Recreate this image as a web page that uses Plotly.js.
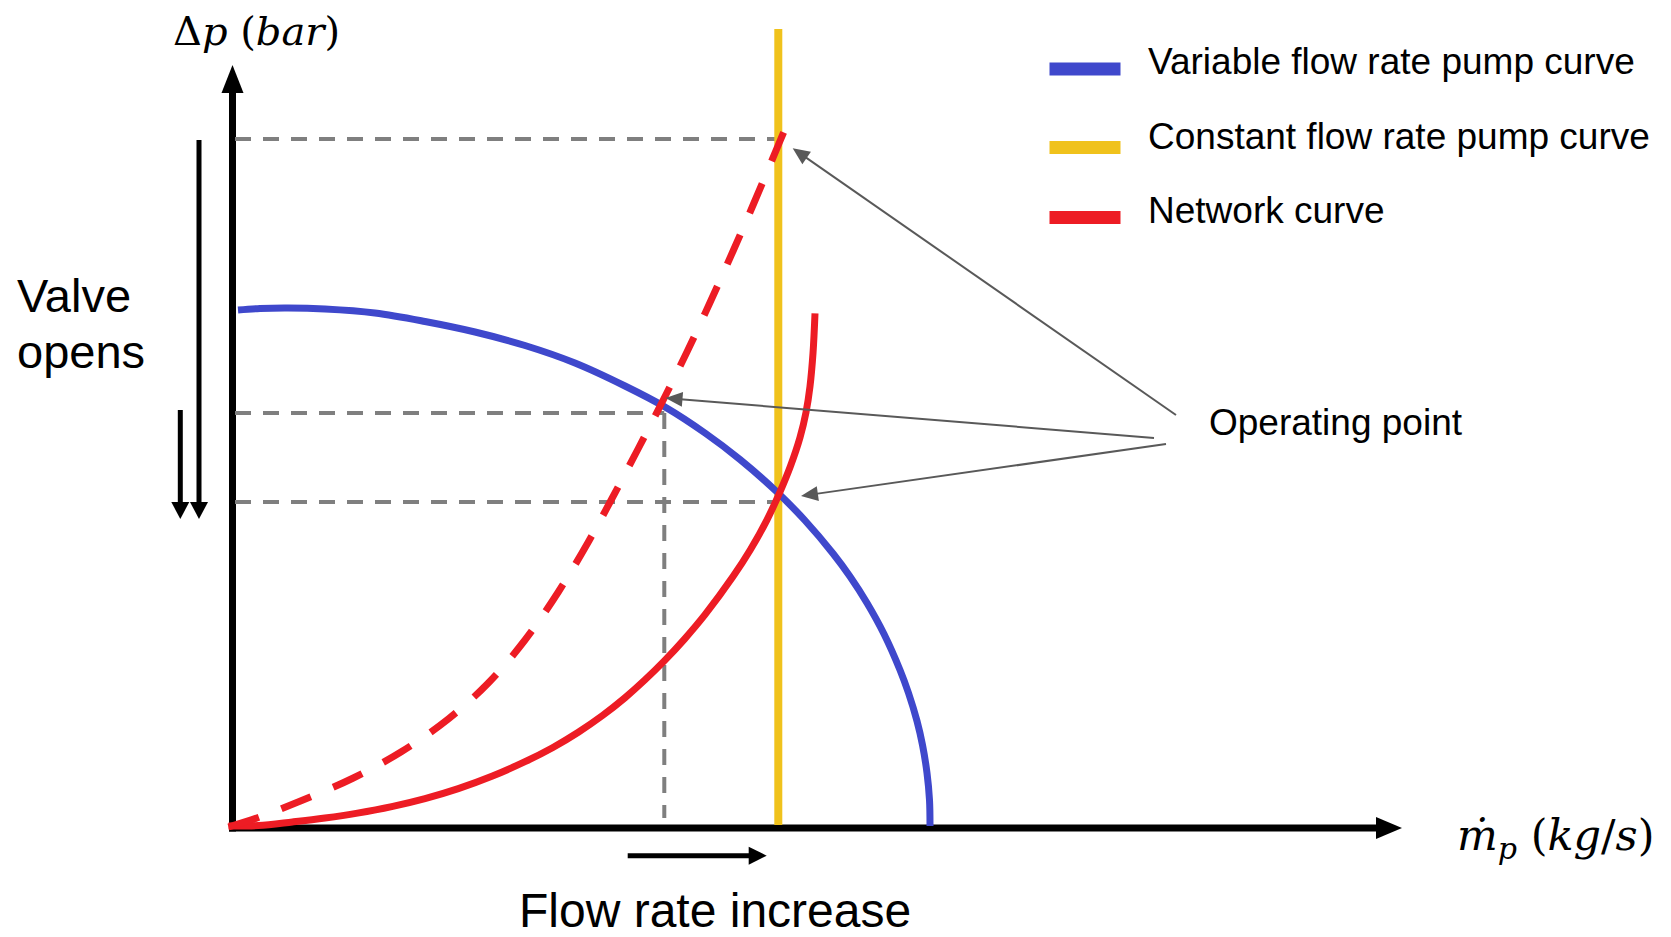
<!DOCTYPE html>
<html><head><meta charset="utf-8">
<script src="https://cdn.plot.ly/plotly-3.0.1.min.js"></script>
<style>html,body{margin:0;padding:0;background:#fff;}#chart{width:1671px;height:937px;}</style>
</head><body><div id="chart"></div>
<script>
// ---- data (arbitrary units: flow rate on x, pressure difference on y) ----
const pumpVarX = [0.055, 0.275, 0.555, 0.925, 1.425, 1.925, 2.425, 2.925, 3.425, 3.925, 4.325, 4.725, 5.075, 5.445, 5.725, 6.005, 6.175, 6.345, 6.515, 6.675, 6.760, 6.845, 6.900, 6.945, 6.970, 6.975];
const pumpVarY = [5.18, 5.195, 5.20, 5.19, 5.15, 5.065, 4.96, 4.825, 4.65, 4.42, 4.21, 3.95, 3.685, 3.36, 3.075, 2.745, 2.515, 2.25, 1.94, 1.58, 1.35, 1.07, 0.83, 0.55, 0.28, 0.02];

const pumpConstX = [5.458, 5.458];
const pumpConstY = [0.03, 7.99];

const netSolidX = [-0.04, 0.258, 0.600, 0.925, 1.250, 1.592, 1.925, 2.258, 2.600, 2.925, 3.200, 3.458, 3.700, 3.925, 4.120, 4.318, 4.520, 4.725, 5.005, 5.180, 5.345, 5.475, 5.580, 5.675, 5.735, 5.775, 5.805, 5.825];
const netSolidY = [0.02, 0.025, 0.061, 0.10, 0.149, 0.214, 0.294, 0.394, 0.52, 0.663, 0.803, 0.958, 1.125, 1.303, 1.477, 1.671, 1.889, 2.133, 2.514, 2.785, 3.082, 3.362, 3.62, 3.905, 4.157, 4.417, 4.747, 5.147];

const netDashX = [-0.04, 0.258, 0.692, 1.208, 1.692, 2.158, 2.558, 2.925, 3.258, 3.558, 3.792, 4.058, 4.325, 4.542, 4.775, 5.008, 5.208, 5.475, 5.542];
const netDashY = [0.01, 0.105, 0.275, 0.50, 0.765, 1.09, 1.45, 1.88, 2.36, 2.86, 3.29, 3.795, 4.315, 4.755, 5.255, 5.775, 6.235, 6.87, 7.03];

// operating points: top (valve closed, const pump), middle (variable pump), bottom
const opX = [5.458, 4.318, 5.458];
const opY = [6.89, 4.15, 3.26];

const legendLabels = ["Variable flow rate pump curve", "Constant flow rate pump curve", "Network curve"];
const colBlue = "#3F48CC", colYellow = "#F0C21C", colRed = "#ED1C24";
const legendColors = [colBlue, colYellow, colRed];

// ---- traces ----
const traces = [];
const grayDash = {color: "#7F7F7F", width: 4, dash: "16px,12px"};
for (let i = 0; i < opX.length; i++) {
  traces.push({x: [0.025, opX[i]], y: [opY[i], opY[i]], mode: "lines", line: grayDash, hoverinfo: "skip"});
}
traces.push({x: [opX[1], opX[1]], y: [opY[1], 0.1], mode: "lines", line: grayDash, hoverinfo: "skip"});

traces.push({x: pumpConstX, y: pumpConstY, mode: "lines", line: {color: colYellow, width: 8}, name: legendLabels[1]});
traces.push({x: pumpVarX, y: pumpVarY, mode: "lines", line: {color: colBlue, width: 7, shape: "spline", smoothing: 1}, name: legendLabels[0]});
traces.push({x: netSolidX, y: netSolidY, mode: "lines", line: {color: colRed, width: 7, shape: "spline", smoothing: 1}, name: legendLabels[2]});
traces.push({x: netDashX, y: netDashY, mode: "lines", line: {color: colRed, width: 7, dash: "32px,24px", shape: "spline", smoothing: 1}, name: legendLabels[2] + " (valve closed)"});

// ---- shapes: arrows, axes, legend bars (1 data unit = 100 px on both axes) ----
const shapes = [];
function arrow(x0, y0, x1, y1, lw, hl, hw, color, layer) {
  const dx = x1 - x0, dy = y1 - y0, L = Math.hypot(dx, dy);
  const ux = dx / L, uy = dy / L;
  const h = hl / 100, w = hw / 200;
  const bx = x1 - ux * h, by = y1 - uy * h;
  const px = -uy, py = ux;
  shapes.push({type: "line", xref: "x", yref: "y", layer: layer, x0: x0, y0: y0, x1: bx + ux * 0.02, y1: by + uy * 0.02, line: {color: color, width: lw}});
  shapes.push({type: "path", xref: "x", yref: "y", layer: layer,
    path: `M${x1},${y1} L${bx + px * w},${by + py * w} L${bx - px * w},${by - py * w} Z`,
    fillcolor: color, line: {width: 0}});
}
arrow(0, -0.035, 0, 7.63, 7, 28, 22, "#000", "below");
arrow(-0.035, 0, 11.695, 0, 7, 26, 22, "#000", "below");
arrow(-0.335, 6.88, -0.335, 3.09, 5, 17, 18, "#000", "above");
arrow(-0.522, 4.18, -0.522, 3.09, 5, 17, 18, "#000", "above");
arrow(3.952, -0.277, 5.342, -0.277, 5, 18, 18, "#000", "above");
const ptrColor = "#595959";
arrow(9.435, 4.13, 5.602, 6.797, 2, 17, 15, ptrColor, "above");
arrow(9.215, 3.90, 4.33, 4.30, 2, 17, 15, ptrColor, "above");
arrow(9.335, 3.84, 5.685, 3.32, 2, 17, 15, ptrColor, "above");

const legY = [7.59, 6.805, 6.105];
const legTextY = [7.67, 6.92, 6.18];
const annotations = [];
const sans = "Liberation Sans, Arial, sans-serif";
const serif = "DejaVu Serif, Liberation Serif, serif";
for (let i = 0; i < legendLabels.length; i++) {
  shapes.push({type: "line", xref: "x", yref: "y", x0: 8.17, x1: 8.88, y0: legY[i], y1: legY[i], line: {color: legendColors[i], width: 13}});
  annotations.push({xref: "x", yref: "y", x: 9.135, y: legTextY[i], xanchor: "left", yanchor: "middle", showarrow: false,
    text: legendLabels[i], font: {family: sans, size: 37, color: "#000"}});
}

annotations.push({xref: "x", yref: "y", x: 9.745, y: 4.06, xanchor: "left", yanchor: "middle", showarrow: false,
  text: "Operating point", font: {family: sans, size: 37, color: "#000"}});
annotations.push({xref: "x", yref: "y", x: -2.175, y: 5.33, xanchor: "left", yanchor: "middle", showarrow: false,
  text: "Valve", font: {family: sans, size: 47, color: "#000"}});
annotations.push({xref: "x", yref: "y", x: -2.175, y: 4.77, xanchor: "left", yanchor: "middle", showarrow: false,
  text: "opens", font: {family: sans, size: 47, color: "#000"}});
annotations.push({xref: "x", yref: "y", x: 4.82, y: -0.82, xanchor: "center", yanchor: "middle", showarrow: false,
  text: "Flow rate increase", font: {family: sans, size: 48, color: "#000"}});
annotations.push({xref: "x", yref: "y", x: 0.235, y: 7.97, xanchor: "center", yanchor: "middle", showarrow: false,
  text: "Δ<i>p</i> (<i>bar</i>)", font: {family: serif, size: 40, color: "#000"}});
annotations.push({xref: "x", yref: "y", x: 13.225, y: -0.1, xanchor: "center", yanchor: "middle", showarrow: false,
  text: "<i>ṁ</i><sub><i>p</i></sub> (<i>kg</i>/<i>s</i>)", font: {family: serif, size: 43, color: "#000"}});

const layout = {
  width: 1671, height: 937, autosize: false,
  margin: {l: 0, r: 0, t: 0, b: 0, pad: 0},
  paper_bgcolor: "#fff", plot_bgcolor: "#fff",
  showlegend: false,
  xaxis: {range: [-2.325, 14.385], visible: false, fixedrange: true},
  yaxis: {range: [-1.09, 8.28], visible: false, fixedrange: true},
  shapes: shapes,
  annotations: annotations
};
Plotly.newPlot("chart", traces, layout, {staticPlot: true, displayModeBar: false});
</script>
</body></html>
